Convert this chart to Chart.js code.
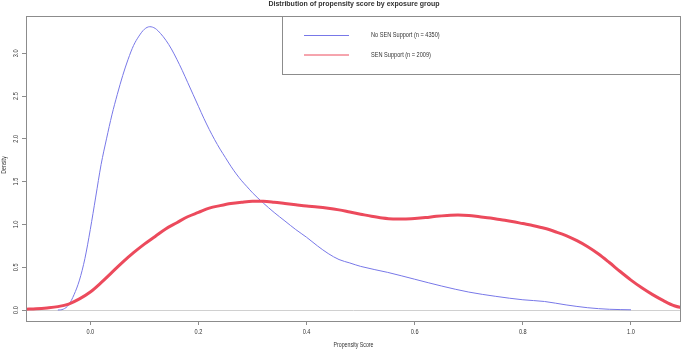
<!DOCTYPE html>
<html>
<head>
<meta charset="utf-8">
<script src="https://cdn.jsdelivr.net/npm/chart.js@4"></script>
<style>
  body { margin: 0; background: #fff; }
  #wrap { width: 682px; height: 350px; }
</style>
</head>
<body>
<div id="wrap"><canvas id="chart" width="682" height="350"></canvas></div>
<script>
// density curves
const noSenX = [-0.06, -0.05, -0.04, -0.03, -0.02, -0.01, 0.0, 0.01, 0.02, 0.03, 0.04, 0.05, 0.06, 0.07, 0.08, 0.09,
  0.10, 0.11, 0.12, 0.13, 0.14, 0.15, 0.16, 0.17, 0.18, 0.19, 0.20, 0.21, 0.22, 0.23, 0.24, 0.25, 0.26, 0.27, 0.28,
  0.29, 0.30, 0.32, 0.34, 0.36, 0.38, 0.40, 0.42, 0.44, 0.46, 0.48, 0.50, 0.55, 0.60, 0.65, 0.70, 0.75, 0.80, 0.84,
  0.88, 0.92, 0.96, 1.00];
const noSenY = [0.0, 0.01, 0.06, 0.18, 0.35, 0.6, 0.94, 1.32, 1.7, 2.0, 2.28, 2.52, 2.74, 2.93, 3.09, 3.2,
  3.28, 3.31, 3.29, 3.23, 3.15, 3.05, 2.93, 2.80, 2.66, 2.52, 2.38, 2.24, 2.11, 1.99, 1.88, 1.78, 1.68, 1.59, 1.51,
  1.44, 1.37, 1.25, 1.14, 1.04, 0.94, 0.85, 0.75, 0.66, 0.59, 0.55, 0.51, 0.44, 0.36, 0.28, 0.21, 0.16, 0.12, 0.10,
  0.06, 0.027, 0.009, 0.003];

const senX = [-0.12, -0.10, -0.08, -0.06, -0.04, -0.02, 0.0, 0.02, 0.04, 0.06, 0.08, 0.10, 0.12, 0.14, 0.16, 0.18,
  0.20, 0.22, 0.24, 0.26, 0.28, 0.30, 0.32, 0.34, 0.36, 0.38, 0.40, 0.42, 0.44, 0.46, 0.48, 0.50, 0.52, 0.54, 0.56,
  0.58, 0.60, 0.62, 0.64, 0.66, 0.68, 0.70, 0.72, 0.74, 0.76, 0.78, 0.80, 0.82, 0.84, 0.86, 0.88, 0.90, 0.92, 0.94,
  0.96, 0.98, 1.00, 1.02, 1.04, 1.06, 1.08, 1.10];
const senY = [0.01, 0.015, 0.025, 0.04, 0.07, 0.13, 0.21, 0.32, 0.44, 0.56, 0.67, 0.77, 0.86, 0.95, 1.02, 1.09,
  1.14, 1.19, 1.22, 1.245, 1.26, 1.27, 1.27, 1.26, 1.245, 1.23, 1.215, 1.205, 1.19, 1.17, 1.145, 1.12, 1.095, 1.075, 1.065,
  1.065, 1.07, 1.08, 1.095, 1.105, 1.11, 1.105, 1.09, 1.075, 1.055, 1.035, 1.01, 0.985, 0.955, 0.915, 0.87, 0.81, 0.74, 0.655,
  0.555, 0.45, 0.35, 0.26, 0.18, 0.11, 0.05, 0.02];

const xTicks = [0.0, 0.2, 0.4, 0.6, 0.8, 1.0];
const yTicks = [0.0, 0.5, 1.0, 1.5, 2.0, 2.5, 3.0];
const seriesLabels = ['No SEN Support (n = 4350)', 'SEN Support (n = 2009)'];
const chartTitle = 'Distribution of propensity score by exposure group';
const xTitle = 'Propensity Score';
const yTitle = 'Density';

const blue = '#7878e8';
const red = '#ec4a5c';
const boxGrey = '#8c8c8c';

function toPoints(xs, ys) {
  return xs.map((x, i) => ({ x: x, y: ys[i] }));
}

// small text helper, R output looks a bit narrow
function txt(ctx, s, x, y, size, opts) {
  opts = opts || {};
  ctx.save();
  ctx.translate(x, y);
  if (opts.rot) ctx.rotate(opts.rot);
  ctx.scale(opts.sx || 1, 1);
  ctx.font = (opts.bold ? 'bold ' : '') + size + 'px "Liberation Sans", Arial, sans-serif';
  ctx.fillStyle = opts.color || '#333';
  ctx.textAlign = opts.align || 'center';
  ctx.textBaseline = 'middle';
  ctx.fillText(s, 0, 0);
  ctx.restore();
}

const rDecor = {
  id: 'rDecor',
  beforeDatasetsDraw(chart) {
    const ctx = chart.ctx;
    const y0 = chart.scales.y.getPixelForValue(0);
    ctx.save();
    ctx.strokeStyle = '#d0d0d0';
    ctx.lineWidth = 1;
    ctx.beginPath();
    ctx.moveTo(chart.chartArea.left, Math.round(y0) + 0.5);
    ctx.lineTo(chart.chartArea.right, Math.round(y0) + 0.5);
    ctx.stroke();
    ctx.restore();
  },
  afterDraw(chart) {
    const ctx = chart.ctx;
    const a = chart.chartArea;
    const xs = chart.scales.x, ys = chart.scales.y;

    // box round the plot
    ctx.save();
    ctx.strokeStyle = boxGrey;
    ctx.lineWidth = 1;
    ctx.strokeRect(a.left + 0.5, a.top + 0.5, a.right - a.left - 1, a.bottom - a.top);
    ctx.restore();

    xTicks.forEach(v => txt(ctx, v.toFixed(1), xs.getPixelForValue(v), 332.5, 7, { sx: 0.8 }));
    yTicks.forEach(v => txt(ctx, v.toFixed(1), 16.5, ys.getPixelForValue(v), 7, { sx: 0.8, rot: -Math.PI / 2 }));

    txt(ctx, xTitle, (a.left + a.right) / 2, 345.5, 7, { sx: 0.75 });
    txt(ctx, yTitle, 4.5, 165, 7, { sx: 0.75, rot: -Math.PI / 2 });
    txt(ctx, chartTitle, 354, 4.5, 7, { bold: true });

    // legend
    const lx = 282, ly = a.top;
    ctx.save();
    ctx.fillStyle = '#fff';
    ctx.fillRect(lx + 0.5, ly + 0.5, a.right - lx - 1, 58);
    ctx.strokeStyle = boxGrey;
    ctx.strokeRect(lx + 0.5, ly + 0.5, a.right - lx - 1, 58);
    [blue, red].forEach((c, i) => {
      const yy = [35.5, 55][i];
      ctx.strokeStyle = c;
      ctx.lineWidth = 1;
      ctx.beginPath();
      ctx.moveTo(304, yy);
      ctx.lineTo(349, yy);
      ctx.stroke();
      txt(ctx, seriesLabels[i], 371, yy, 7, { sx: 0.8, align: 'left' });
    });
    ctx.restore();
  }
};

new Chart(document.getElementById('chart'), {
  type: 'line',
  data: {
    datasets: [
      {
        label: seriesLabels[0],
        data: toPoints(noSenX, noSenY),
        borderColor: blue,
        borderWidth: 1,
        pointRadius: 0,
        cubicInterpolationMode: 'monotone',
        order: 1
      },
      {
        label: seriesLabels[1],
        data: toPoints(senX, senY),
        borderColor: red,
        borderWidth: 3,
        pointRadius: 0,
        cubicInterpolationMode: 'monotone',
        order: 0
      }
    ]
  },
  options: {
    responsive: false,
    animation: false,
    devicePixelRatio: 1,
    layout: { padding: { left: 0, right: 1, top: 16, bottom: 24 } },
    plugins: { legend: { display: false }, title: { display: false }, tooltip: { enabled: false } },
    scales: {
      x: {
        type: 'linear',
        min: -0.1189,
        max: 1.0925,
        afterBuildTicks: (s) => { s.ticks = xTicks.map(v => ({ value: v })); },
        afterFit: (s) => { s.height = 5; },
        ticks: { display: false },
        border: { display: false },
        grid: { drawOnChartArea: false, drawTicks: true, tickLength: 4, color: boxGrey }
      },
      y: {
        type: 'linear',
        min: -0.128,
        max: 3.435,
        afterBuildTicks: (s) => { s.ticks = yTicks.map(v => ({ value: v })); },
        afterFit: (s) => { s.width = 26; },
        ticks: { display: false },
        border: { display: false },
        grid: { drawOnChartArea: false, drawTicks: true, tickLength: 4, color: boxGrey }
      }
    }
  },
  plugins: [rDecor]
});
</script>
</body>
</html>
